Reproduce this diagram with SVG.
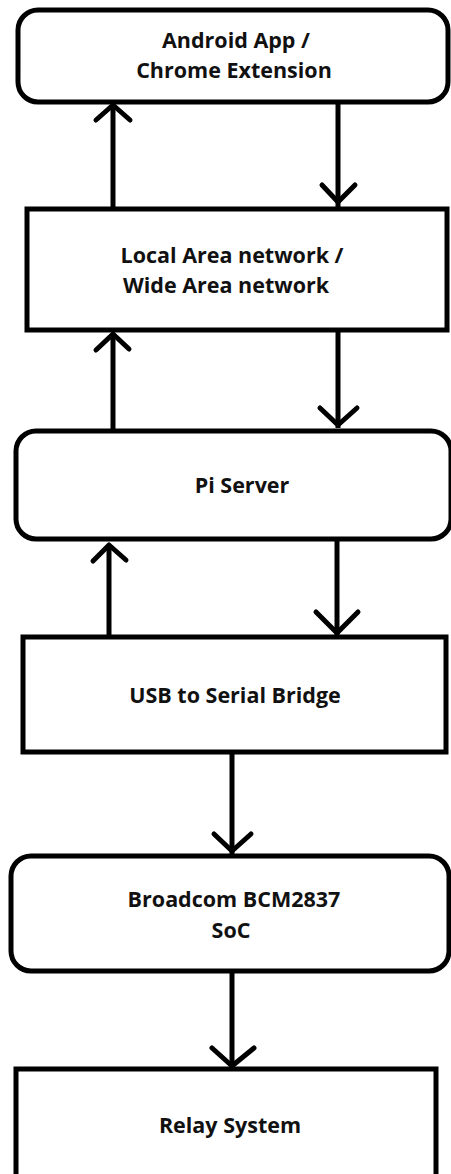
<svg xmlns="http://www.w3.org/2000/svg" width="451" height="1174" viewBox="0 0 451 1174">
<style>
.box{fill:#fff;stroke:#000;stroke-width:5}
.lbl{font-family:"Open Sans","Noto Sans",sans-serif;font-weight:bold;font-size:21.5px;fill:#111;text-anchor:middle}
.shaft{stroke:#000;stroke-width:5;fill:none}
.head{stroke:#000;stroke-width:5;fill:none;stroke-linecap:round;stroke-linejoin:round}
</style>
<rect width="451" height="1174" fill="#fff"/>
<g id="connectors">
<line class="shaft" x1="113" y1="106" x2="113" y2="210"/>
<polyline class="head" points="96,120 113,105 130,120"/>
<line class="shaft" x1="338" y1="102" x2="338" y2="207"/>
<polyline class="head" points="322,185 338,202 355,185"/>
<line class="shaft" x1="113" y1="334" x2="113" y2="429"/>
<polyline class="head" points="96,350 113,334 129,349"/>
<line class="shaft" x1="338" y1="330" x2="338" y2="428"/>
<polyline class="head" points="320,408 338,425 357,408"/>
<line class="shaft" x1="109" y1="545" x2="109" y2="637"/>
<polyline class="head" points="93,561 109,545 126,560"/>
<line class="shaft" x1="337" y1="539" x2="337" y2="636"/>
<polyline class="head" points="316,612 337,633 358,612"/>
<line class="shaft" x1="232" y1="752" x2="232" y2="854"/>
<polyline class="head" points="214,834 232,851 251,834"/>
<line class="shaft" x1="232" y1="971" x2="232" y2="1067"/>
<polyline class="head" points="212,1048 232,1066 254,1048"/>
</g>
<g id="android">
<rect class="box" x="18" y="10" width="430" height="92" rx="20"/>
<text class="lbl" x="236" y="48">Android App /</text>
<text class="lbl" x="234" y="78">Chrome Extension</text>
</g>
<g id="network">
<rect class="box" x="27" y="209" width="420" height="121"/>
<text class="lbl" x="232" y="263">Local Area network /</text>
<text class="lbl" x="226" y="293">Wide Area network</text>
</g>
<g id="piserver">
<rect class="box" x="16" y="431" width="435" height="108" rx="20"/>
<text class="lbl" x="242" y="493">Pi Server</text>
</g>
<g id="usb">
<rect class="box" x="23" y="637" width="423" height="115"/>
<text class="lbl" x="235" y="703">USB to Serial Bridge</text>
</g>
<g id="broadcom">
<rect class="box" x="11" y="856" width="438" height="115" rx="20"/>
<text class="lbl" x="234" y="907">Broadcom BCM2837</text>
<text class="lbl" x="231" y="938">SoC</text>
</g>
<g id="relay">
<rect class="box" x="16" y="1069" width="420" height="115"/>
<text class="lbl" x="230" y="1133">Relay System</text>
</g>
</svg>
